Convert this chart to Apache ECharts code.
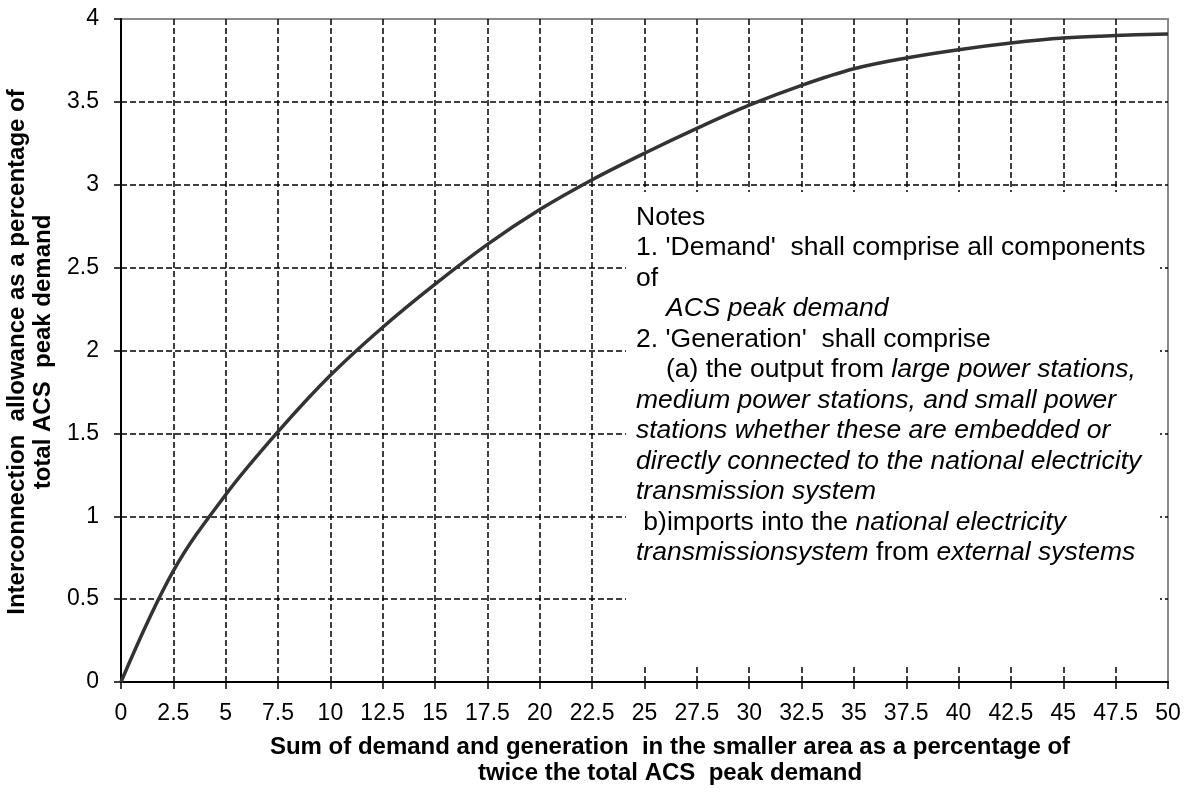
<!DOCTYPE html>
<html>
<head>
<meta charset="utf-8">
<script src="https://cdn.jsdelivr.net/npm/echarts@6/dist/echarts.min.js"></script>
<style>
html,body{margin:0;padding:0;background:#fff;}
#chart{width:1196px;height:789px;}
</style>
</head>
<body>
<div id="chart"></div>
<script>
// ---- data ----
var xValues = [0, 2.5, 5, 7.5, 10, 12.5, 15, 17.5, 20, 22.5, 25, 27.5, 30, 32.5, 35, 37.5, 40, 42.5, 45, 47.5, 50];
var yValues = [0, 0.67, 1.13, 1.51, 1.85, 2.14, 2.40, 2.64, 2.85, 3.03, 3.19, 3.34, 3.48, 3.60, 3.70, 3.765, 3.815, 3.855, 3.885, 3.90, 3.91];
var xAxisRange = [0, 50, 2.5];   // min, max, interval
var yAxisRange = [0, 4, 0.5];
var xTitle = "Sum of demand and generation  in the smaller area as a percentage of\ntwice the total ACS  peak demand";
var yTitle = "Interconnection  allowance as a percentage of\ntotal ACS  peak demand";
var notesLines = [
  "Notes",
  "1. 'Demand'  shall comprise all components",
  "of",
  "{i|ACS peak demand}",
  "2. 'Generation'  shall comprise",
  "(a) the output from {i|large power stations,}",
  "{i|medium power stations, and small power}",
  "{i|stations whether these are embedded or}",
  "{i|directly connected to the national electricity}",
  "{i|transmission system}",
  " b)imports into the {i|national electricity}",
  "{i|transmissionsystem} from {i|external systems}"
];
var notesIndent = [0, 0, 0, 30, 0, 30, 0, 0, 0, 0, 0, 0];

var FONT = "'Liberation Sans', Arial, sans-serif";
var chart = echarts.init(document.getElementById('chart'), null, {renderer: 'canvas'});

var seriesData = xValues.map(function (x, i) { return [x, yValues[i]]; });

var notesGraphics = [
  {type: 'rect', shape: {x: 626, y: 192, width: 534, height: 475}, style: {fill: '#fff'}, z: 50}
];
notesLines.forEach(function (line, i) {
  notesGraphics.push({
    type: 'text', x: 636 + notesIndent[i], y: 218 + i * 30.5, z: 60, scaleX: 1.06,
    style: {
      text: line,
      fontSize: 25, fontFamily: FONT, fill: '#000',
      textVerticalAlign: 'middle', verticalAlign: 'middle',
      rich: {i: {fontStyle: 'italic', fontSize: 25, fontFamily: FONT, fill: '#000'}}
    }
  });
});

var option = {
  backgroundColor: '#fff',
  animation: false,
  grid: {left: 121, top: 19, right: 28, bottom: 107, show: true, borderColor: '#8a8a8a', borderWidth: 2, backgroundColor: 'transparent'},
  xAxis: {
    type: 'value', min: xAxisRange[0], max: xAxisRange[1], interval: xAxisRange[2],
    axisLine: {show: true, onZero: false, lineStyle: {color: '#000', width: 2}},
    axisTick: {show: true, length: 7, lineStyle: {color: '#000', width: 1.5}},
    axisLabel: {color: '#000', fontSize: 23, fontFamily: FONT, margin: 20, showMaxLabel: true, showMinLabel: true},
    splitLine: {show: true, showMinLine: false, showMaxLine: false, lineStyle: {color: '#000', width: 1.5, type: [6, 3]}}
  },
  yAxis: {
    type: 'value', min: yAxisRange[0], max: yAxisRange[1], interval: yAxisRange[2],
    axisLine: {show: true, onZero: false, lineStyle: {color: '#000', width: 2}},
    axisTick: {show: true, length: 7, lineStyle: {color: '#000', width: 1.5}},
    axisLabel: {color: '#000', fontSize: 23, fontFamily: FONT, margin: 22},
    splitLine: {show: true, showMinLine: false, showMaxLine: false, lineStyle: {color: '#000', width: 1.5, type: [6, 3]}}
  },
  series: [{
    type: 'line', data: seriesData, smooth: 0.35, showSymbol: false, symbol: 'none',
    lineStyle: {color: '#333', width: 3.5}, z: 10
  }],
  graphic: [
    {type: 'text', x: 670, y: 760, z: 60, style: {
      text: xTitle, fontSize: 24, fontWeight: 'bold', fontFamily: FONT, fill: '#000',
      textAlign: 'center', align: 'center', textVerticalAlign: 'middle', verticalAlign: 'middle', lineHeight: 26}},
    {type: 'text', x: 30, y: 352, rotation: Math.PI / 2, z: 60, style: {
      text: yTitle, fontSize: 24, fontWeight: 'bold', fontFamily: FONT, fill: '#000',
      textAlign: 'center', align: 'center', textVerticalAlign: 'middle', verticalAlign: 'middle', lineHeight: 26}}
  ].concat(notesGraphics)
};
chart.setOption(option);
</script>
</body>
</html>
